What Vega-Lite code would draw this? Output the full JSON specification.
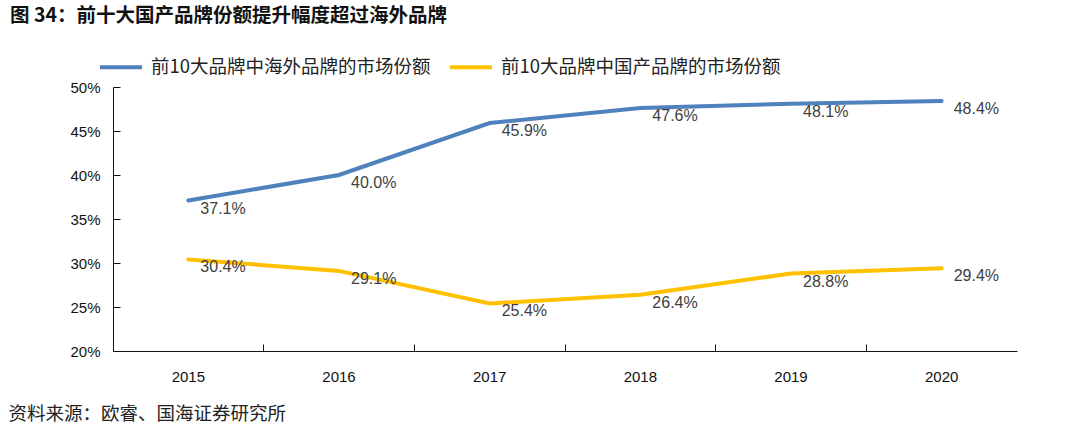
{
  "$schema": "https://vega.github.io/schema/vega-lite/v6.json",
  "width": 904,
  "height": 264,
  "autosize": {"type": "none"},
  "padding": {"left": 113, "top": 87, "right": 63, "bottom": 81},
  "background": "white",
  "config": {"view": {"stroke": null}, "font": "Liberation Sans"},
  "title": {
    "text": "图 34：前十大国产品牌份额提升幅度超过海外品牌",
    "anchor": "start",
    "frame": "group",
    "dx": -103,
    "offset": 18,
    "font": "Noto Sans CJK SC",
    "fontSize": 19.5,
    "fontWeight": "bold",
    "color": "#111111"
  },
  "data": {
    "values": [
      {"year": "2015", "s": "前10大品牌中海外品牌的市场份额", "v": 0.371},
      {"year": "2016", "s": "前10大品牌中海外品牌的市场份额", "v": 0.400},
      {"year": "2017", "s": "前10大品牌中海外品牌的市场份额", "v": 0.459},
      {"year": "2018", "s": "前10大品牌中海外品牌的市场份额", "v": 0.476},
      {"year": "2019", "s": "前10大品牌中海外品牌的市场份额", "v": 0.481},
      {"year": "2020", "s": "前10大品牌中海外品牌的市场份额", "v": 0.484},
      {"year": "2015", "s": "前10大品牌中国产品牌的市场份额", "v": 0.304},
      {"year": "2016", "s": "前10大品牌中国产品牌的市场份额", "v": 0.291},
      {"year": "2017", "s": "前10大品牌中国产品牌的市场份额", "v": 0.254},
      {"year": "2018", "s": "前10大品牌中国产品牌的市场份额", "v": 0.264},
      {"year": "2019", "s": "前10大品牌中国产品牌的市场份额", "v": 0.288},
      {"year": "2020", "s": "前10大品牌中国产品牌的市场份额", "v": 0.294}
    ]
  },
  "encoding": {
    "x": {
      "field": "year",
      "type": "ordinal",
      "scale": {"type": "band", "paddingInner": 0, "paddingOuter": 0},
      "axis": {
        "title": "资料来源：欧睿、国海证券研究所",
        "titleFont": "Noto Sans CJK SC",
        "titleFontSize": 18.5,
        "titleFontWeight": "normal",
        "titleColor": "#222222",
        "titleX": -105,
        "titleY": 62,
        "titleAlign": "left",
        "titleBaseline": "middle",
        "labelAngle": 0,
        "bandPosition": 0,
        "labelFontSize": 15,
        "labelColor": "#111111",
        "labelPadding": 25,
        "tickSize": -7,
        "tickColor": "#111111",
        "domainColor": "#111111",
        "grid": false
      }
    },
    "y": {
      "field": "v",
      "type": "quantitative",
      "scale": {"domain": [0.2, 0.5]},
      "axis": {
        "title": null,
        "format": ".0%",
        "values": [0.2, 0.25, 0.3, 0.35, 0.4, 0.45, 0.5],
        "labelFontSize": 15,
        "labelColor": "#111111",
        "labelPadding": 20,
        "tickSize": -7,
        "tickColor": "#111111",
        "domainColor": "#111111",
        "grid": false
      }
    },
    "color": {
      "field": "s",
      "type": "nominal",
      "scale": {
        "domain": ["前10大品牌中海外品牌的市场份额", "前10大品牌中国产品牌的市场份额"],
        "range": ["#4F81BD", "#FFC000"]
      },
      "legend": {
        "title": null,
        "orient": "none",
        "direction": "horizontal",
        "legendX": -15,
        "legendY": -43,
        "symbolType": "stroke",
        "symbolSize": 1764,
        "symbolStrokeWidth": 4,
        "labelFont": "Noto Sans CJK SC",
        "labelFontSize": 18.5,
        "labelColor": "#222222",
        "labelOffset": 7,
        "columnPadding": 11,
        "labelLimit": 400
      }
    }
  },
  "layer": [
    {"mark": {"type": "line", "strokeWidth": 4, "strokeCap": "round"}},
    {
      "mark": {"type": "text", "align": "left", "baseline": "middle", "dx": 12, "dy": 8, "fontSize": 16, "font": "Liberation Sans"},
      "encoding": {
        "text": {"field": "v", "type": "quantitative", "format": ".1%"},
        "color": {"value": "#404040"}
      }
    }
  ]
}
